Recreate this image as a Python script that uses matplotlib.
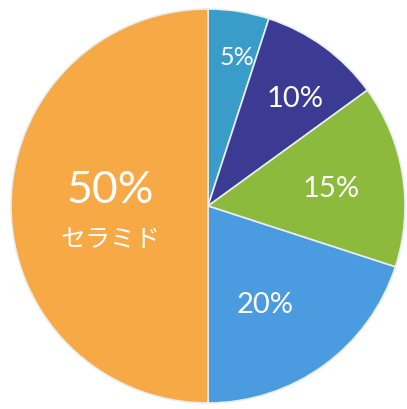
import numpy as np
import matplotlib
matplotlib.use("Agg")
import matplotlib.pyplot as plt

# Slice shares (percent), clockwise from 12 o'clock
shares = [5, 10, 15, 20, 50]
pct_labels = ["5%", "10%", "15%", "20%", "50%"]
colors = ["#3a9dc9", "#3c3b94", "#8cba3c", "#4a9be0", "#f7a945"]
main_name = "セラミド"

# layout: radial position of each label (fraction of radius) and font sizes
label_r = [0.77, 0.70, 0.63, 0.58, 0.50]
label_shift = [-2, -3, -1, -6, -9]   # degrees of angular nudge
label_size = [18, 21, 21, 21, 32]

W, H = 407, 409
cx, cy, R = 208, 206, 197

fig = plt.figure(figsize=(W / 100, H / 100), dpi=100)
ax = fig.add_axes([0, 0, 1, 1])

wedges, _ = ax.pie(shares, colors=colors, startangle=90, counterclock=False,
                   radius=1.0, center=(0, 0), frame=True,
                   wedgeprops=dict(edgecolor="#e6eef0", linewidth=1.2))
ax.set_xlim(-cx / R, (W - cx) / R)
ax.set_ylim(-(H - cy) / R, cy / R)
ax.set_aspect("auto")
ax.axis("off")

fam = ["Lato", "Noto Sans CJK JP", "DejaVu Sans"]
for w, txt, r, sh, fs in zip(wedges, pct_labels, label_r, label_shift, label_size):
    mid = np.deg2rad((w.theta1 + w.theta2) / 2 + sh)
    x, y = r * np.cos(mid), r * np.sin(mid)
    ax.text(x, y, txt, ha="center", va="center", color="white",
            fontsize=fs, family=fam)
    if txt == pct_labels[-1]:
        ax.text(x, y - 0.25, main_name, ha="center", va="center",
                color="white", fontsize=18, family=fam)

fig.savefig("out.png", dpi=100, facecolor="white")
